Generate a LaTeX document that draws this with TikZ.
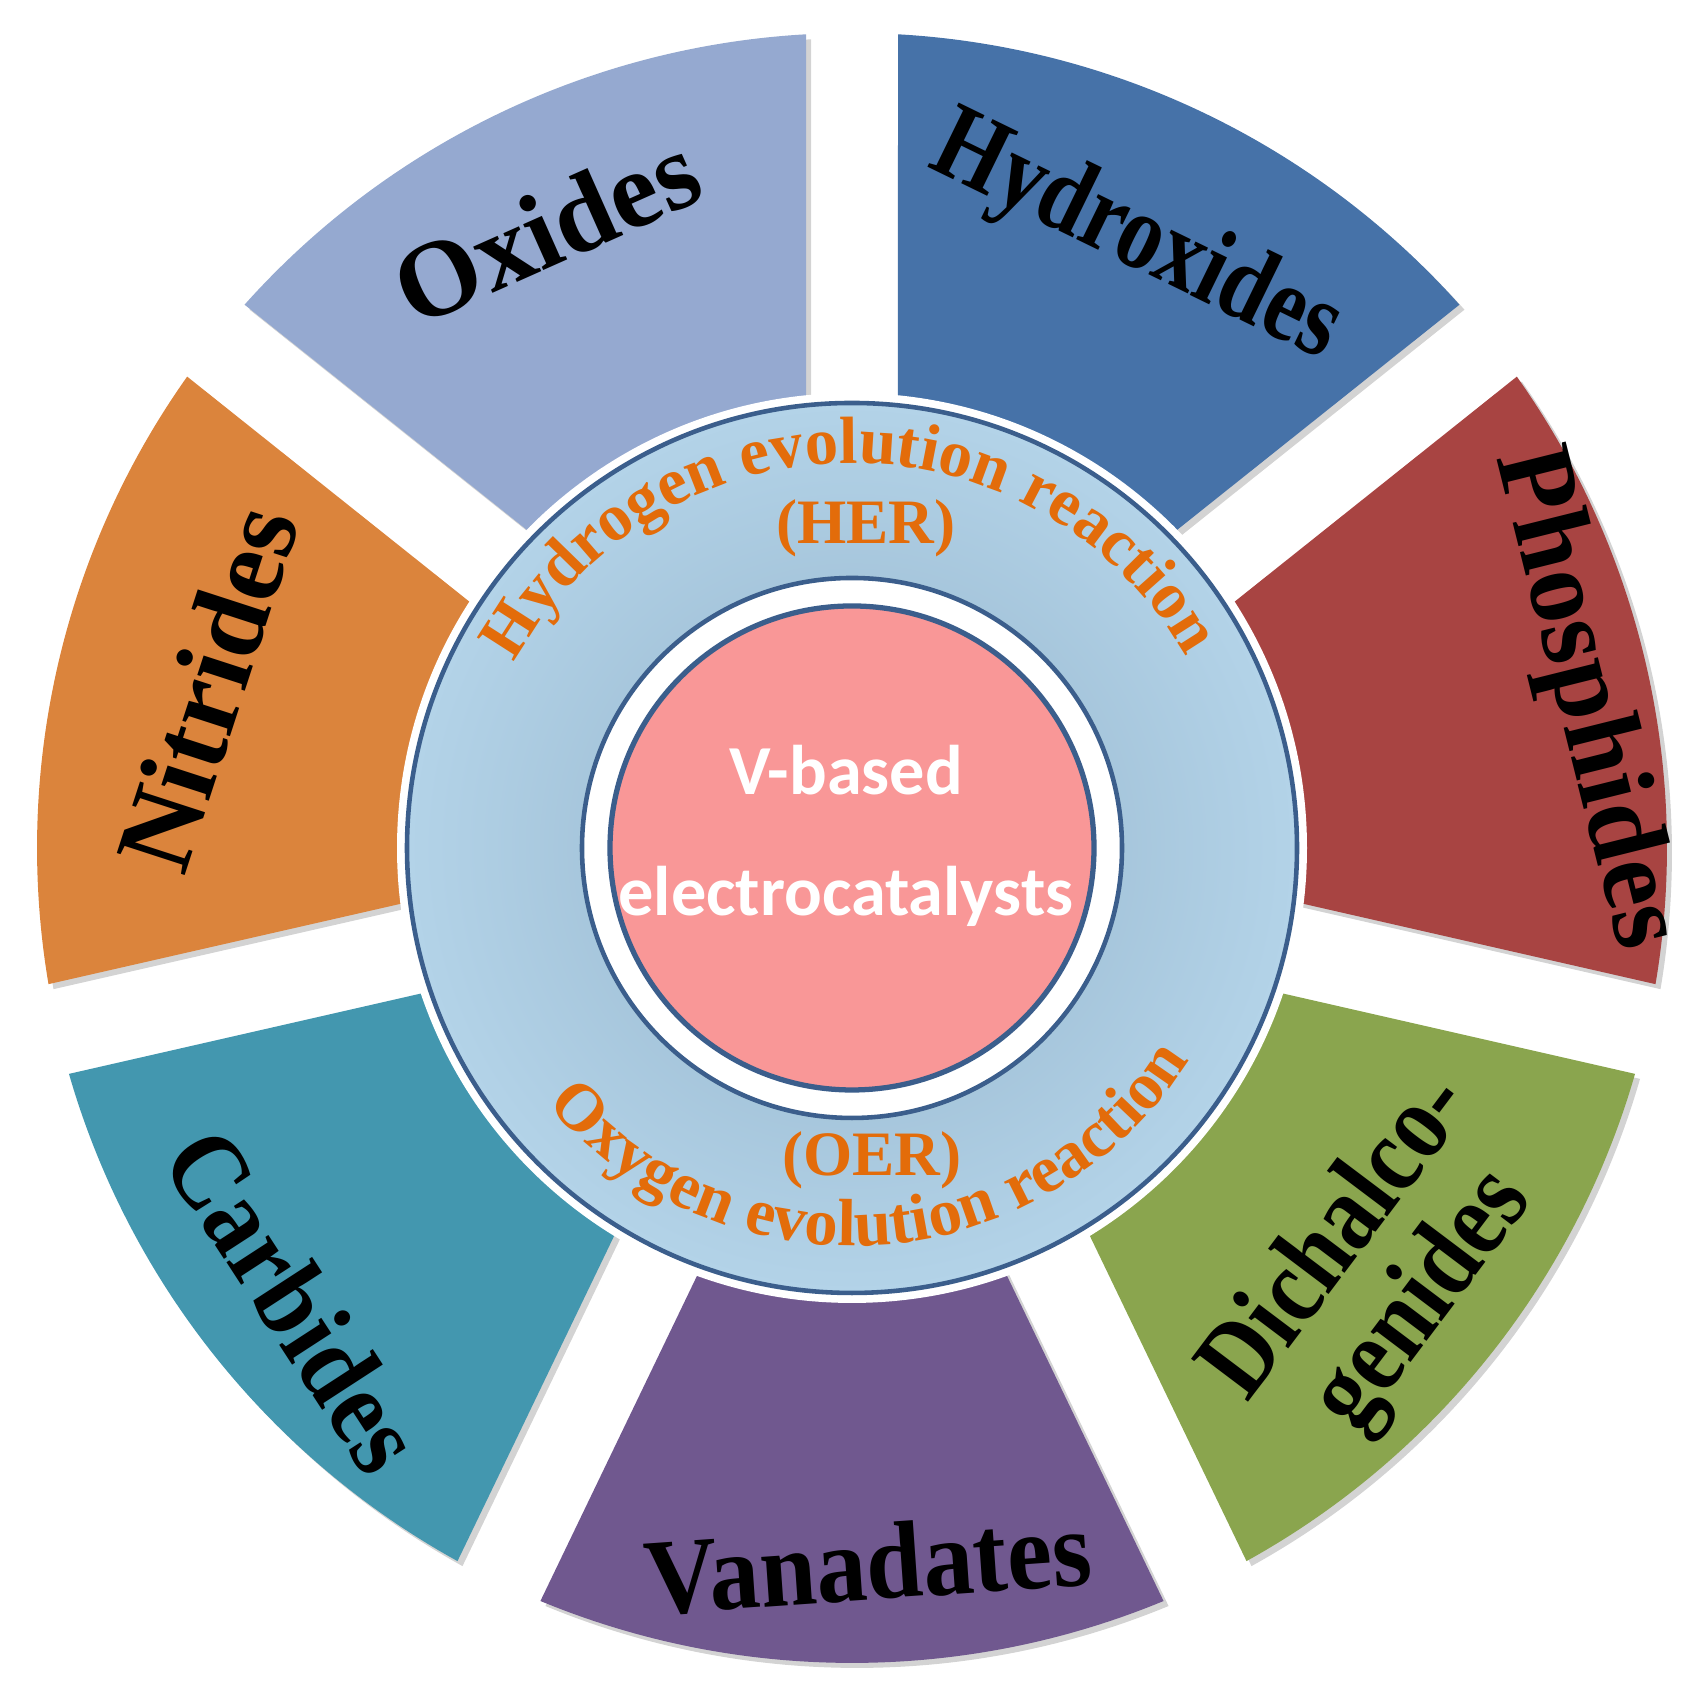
\documentclass[tikz,border=0pt]{standalone}
\usepackage{fontspec}
\setmainfont{Liberation Serif}
\newfontfamily\calfont{Carlito}
\usetikzlibrary{decorations.text}
\definecolor{cHyd}{HTML}{4672A8}
\definecolor{cPho}{HTML}{A84442}
\definecolor{cDic}{HTML}{8AA54E}
\definecolor{cVan}{HTML}{70588F}
\definecolor{cCar}{HTML}{4397AF}
\definecolor{cNit}{HTML}{DB843C}
\definecolor{cOxi}{HTML}{95A9D0}
\definecolor{ring}{HTML}{B3D3E8}
\definecolor{ringd}{HTML}{94B3CA}
\definecolor{edge}{HTML}{3B5E8C}
\definecolor{pink}{HTML}{F99797}
\definecolor{org}{HTML}{E36C0A}
\tikzset{
 lab/.style={font=\bfseries\fontsize{31}{34}\selectfont, text=black},
 arctext/.style={decorate,decoration={text along path,text align=center,
   text={|\bfseries\fontsize{19}{20}\selectfont\color{org}|#1}}},
}
\begin{document}
\begin{tikzpicture}
\useasboundingbox (0,0) rectangle (17.05,16.90);
\begin{scope}[shift={(8.52,8.42)}]
\def\Ri{4.3}\def\Ro{8.15}\def\dd{0.46}
\foreach \a/\c in {90/cHyd,38.5714/cPho,-12.857/cDic,-64.2857/cVan,-115.714/cCar,-167.143/cNit,141.4286/cOxi}{
  \pgfmathsetmacro\b{\a-51.4286}
  \pgfmathsetmacro\si{asin(\dd/\Ri)}
  \pgfmathsetmacro\so{asin(\dd/\Ro)}
  \foreach \sh/\col/\op in {{(0.05,-0.05)}/gray/0.35,{(0,0)}/\c/1}{
  \fill[\col,opacity=\op,shift={\sh}] (\a-\si:\Ri) -- (\a-\so:\Ro)
     arc[start angle=\a-\so,end angle=\b+\so,radius=\Ro]
     -- (\b+\si:\Ri) arc[start angle=\b+\si,end angle=\a-\si,radius=\Ri] -- cycle;
  }
}
% ring
\fill[white] (0,0) circle (4.55);
\shade[inner color=ringd,outer color=ring] (0,0) circle (4.45);
\draw[edge,line width=1.3pt] (0,0) circle (4.45);
\fill[white] (0,0) circle (2.7);
\draw[edge,line width=1.3pt] (0,0) circle (2.7);
\fill[pink] (0,0) circle (2.42);
\draw[edge,line width=1.5pt] (0,0) circle (2.42);
\node (vb) at (-0.06,0.78) {\calfont\bfseries\fontsize{20}{22}\selectfont\color{white}V-based};
\node (ec) at (-0.06,-0.48) {\calfont\bfseries\fontsize{20}{22}\selectfont\color{white}electrocatalysts};
\path[arctext={Hydrogen evolution reaction}] (175:3.85) arc[start angle=175,end angle=6,radius=3.85];
\path[arctext={Oxygen evolution reaction}] (-146:3.98) arc[start angle=-146,end angle=-26,radius=3.98];
\node[text=org,font=\bfseries\fontsize{18}{19}\selectfont] (her) at (0.14,3.2) {(HER)};
\node[text=org,font=\bfseries\fontsize{18}{19}\selectfont] (oer) at (0.2,-3.12) {(OER)};
% labels
\node[lab,rotate=24] (oxi) at (-3.06,6.19) {Oxides};
\node[lab,rotate=-26,xscale=0.82] (hyd) at (2.84,6.08) {Hydroxides};
\node[lab,rotate=-76,xscale=0.97] (pho) at (7.32,1.49) {Phosphides};
\node[lab,rotate=53,align=center,xscale=0.85] (dic) at (5.3,-4.22) {Dichalco-\\[-4pt]genides};
\node[lab,rotate=4,xscale=0.93] (van) at (0.16,-7.15) {Vanadates};
\node[lab,rotate=-57,xscale=0.9] (car) at (-5.57,-4.52) {Carbides};
\node[lab,rotate=72] (nit) at (-6.45,1.6) {Nitrides};
\end{scope}
\end{tikzpicture}
\end{document}
